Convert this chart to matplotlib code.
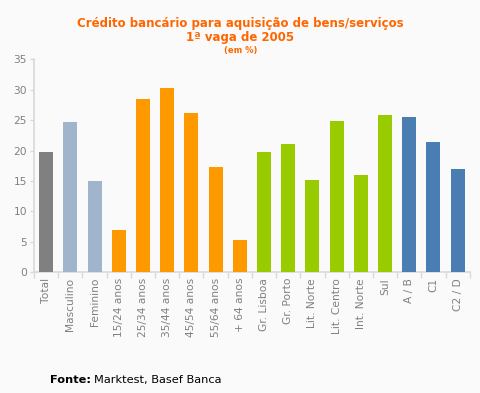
import matplotlib
matplotlib.use("Agg")
import matplotlib.pyplot as plt
import numpy as np

categories = ["Total", "Masculino", "Feminino", "15/24 anos", "25/34 anos", "35/44 anos",
              "45/54 anos", "55/64 anos", "+ 64 anos", "Gr. Lisboa", "Gr. Porto", "Lit. Norte",
              "Lit. Centro", "Int. Norte", "Sul", "A / B", "C1", "C2 / D"]
values = [19.8, 24.7, 15.0, 7.0, 28.5, 30.3, 26.2, 17.3, 5.3, 19.8, 21.1, 15.2,
          24.9, 16.0, 25.9, 25.5, 21.4, 17.0]
colors = ["#808080", "#a0b4cb", "#a0b4cb"] + ["#ff9900"] * 6 + ["#99cc00"] * 6 + ["#4a7eb3"] * 3
yticks = [0, 5, 10, 15, 20, 25, 30, 35]

bg = "#fafafa"
fig = plt.figure(figsize=(4.81, 3.93), dpi=100, facecolor=bg)
ax = fig.add_axes([0.0707, 0.307, 0.906, 0.542], facecolor=bg)

x = np.arange(len(categories))
ax.bar(x, values, width=0.58, color=colors, zorder=3)
ax.set_xlim(-0.5, len(categories) - 0.5)
ax.set_ylim(0, 35)
ax.set_yticks(yticks)
ax.set_xticks(x)
ax.set_xticklabels(categories, rotation=90, fontsize=7.7, color="#808080")
ax.tick_params(axis="x", length=0, pad=4)
ax.set_xticks(np.arange(len(categories) + 1) - 0.5, minor=True)
ax.tick_params(axis="x", which="minor", length=4, color="#d9d9d9", width=1)
ax.tick_params(axis="y", labelsize=7.7, labelcolor="#808080", length=3, color="#d9d9d9", width=1, pad=2)
for s in ["top", "right"]:
    ax.spines[s].set_visible(False)
for s in ["left", "bottom"]:
    ax.spines[s].set_color("#d9d9d9")
    ax.spines[s].set_linewidth(1.2)

orange = "#ff6600"
fig.text(0.5, 1 - 23 / 393, "Crédito bancário para aquisição de bens/serviços", ha="center", va="center",
         fontsize=8.5, fontweight="bold", color=orange)
fig.text(0.5, 1 - 38 / 393, "1ª vaga de 2005", ha="center", va="center",
         fontsize=8.5, fontweight="bold", color=orange)
fig.text(0.5, 1 - 50 / 393, "(em %)", ha="center", va="center",
         fontsize=6, fontweight="bold", color=orange)

t = fig.text(50 / 481, 1 - 380 / 393, "Fonte:", ha="left", va="center", fontsize=8.2,
             fontweight="bold", color="black")
fig.canvas.draw()
bb = t.get_window_extent()
fig.text(bb.x1 / fig.bbox.width + 0.006, 1 - 380 / 393, "Marktest, Basef Banca", ha="left", va="center",
         fontsize=8.2, color="black")

fig.savefig("out.png", dpi=100, facecolor=bg)
